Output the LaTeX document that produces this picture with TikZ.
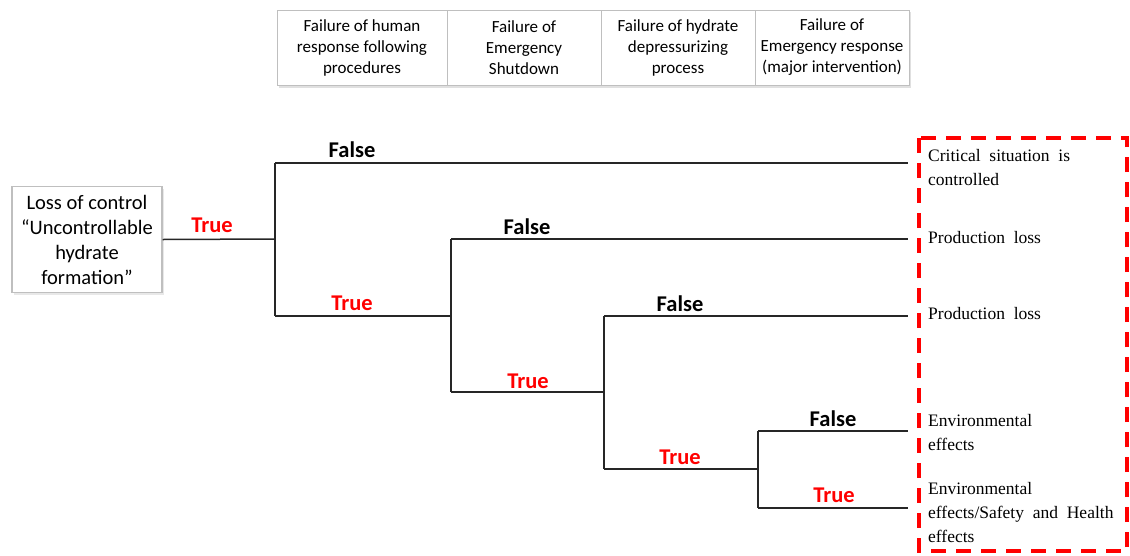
\documentclass[tikz,border=0pt]{standalone}
\usepackage{fontspec}
\setmainfont{Liberation Serif}
\newfontfamily\calfont{Carlito}
\usetikzlibrary{shadows}
\definecolor{boxgray}{HTML}{BFBFBF}
\definecolor{linegray}{HTML}{262626}
\definecolor{truered}{HTML}{FF0000}
\begin{document}
\begin{tikzpicture}[x=1pt,y=-1pt,
  branch/.style={draw=linegray, line width=1.5pt},
  falselbl/.style={font=\calfont\bfseries\fontsize{22.5}{26}\selectfont, text=black, inner sep=0},
  truelbl/.style={font=\calfont\bfseries\fontsize{22.5}{26}\selectfont, text=truered, inner sep=0},
  headcell/.style={draw=boxgray, line width=1pt, fill=white, align=center,
    minimum height=75pt, inner sep=0, font=\calfont\fontsize{17}{21}\selectfont},
  startbox/.style={draw=boxgray, line width=1.2pt, fill=white, align=center,
    minimum width=150pt, minimum height=106pt, inner sep=0,
    font=\calfont\fontsize{20.5}{25}\selectfont,
    drop shadow={opacity=0.18, shadow xshift=1.5pt, shadow yshift=-2pt}},
  outcome/.style={anchor=base west, inner sep=0, font=\fontsize{17.5}{24}\selectfont},
  endzone/.style={draw=truered, line width=4pt, dash pattern=on 15pt off 10pt}
]
\useasboundingbox (0,0) rectangle (1130,555);

% header row of the event tree
\fill[black, opacity=0.12] (279,12) rectangle (911,88);
\node[headcell, minimum width=170pt] (h1) at (362,47.5) {Failure of human\\response following\\procedures};
\node[headcell, minimum width=154pt] (h2) at (524,47.5) {Failure of\\Emergency\\Shutdown};
\node[headcell, minimum width=154pt] (h3) at (678,47.5) {Failure of hydrate\\depressurizing\\process};
\node[headcell, minimum width=154pt] (h4) at (832,47.5) {Failure of\\Emergency response\\(major intervention)};

% initiating event
\node[startbox] (start) at (87,239.5) {Loss of control\\“Uncontrollable\\hydrate\\formation”};

% branching points
\coordinate (j1)  at (275,239);
\coordinate (j1f) at (275,163);
\coordinate (j1t) at (275,316);
\coordinate (j2)  at (451,316);
\coordinate (j2f) at (451,239);
\coordinate (j2t) at (451,392);
\coordinate (j3)  at (604,392);
\coordinate (j3f) at (604,316);
\coordinate (j3t) at (604,469);
\coordinate (j4)  at (758,469);
\coordinate (j4f) at (758,431);
\coordinate (j4t) at (758,508);
% branch ends
\coordinate (e1) at (908,163);
\coordinate (e2) at (908,239);
\coordinate (e3) at (908,316);
\coordinate (e4) at (908,431);
\coordinate (e5) at (908,508);

% tree branches
\draw[branch] (start.east) -- (j1);
\draw[branch] (j1f) -- (j1t);
\draw[branch] (j1f) -- (e1);
\draw[branch] (j1t) -- (j2);
\draw[branch] (j2f) -- (j2t);
\draw[branch] (j2f) -- (e2);
\draw[branch] (j2t) -- (j3);
\draw[branch] (j3f) -- (j3t);
\draw[branch] (j3f) -- (e3);
\draw[branch] (j3t) -- (j4);
\draw[branch] (j4f) -- (j4t);
\draw[branch] (j4f) -- (e4);
\draw[branch] (j4t) -- (e5);

% branch labels
\node[truelbl]  (t0) at (212,225) {True};
\node[falselbl] (f1) at (352,150) {False};
\node[truelbl]  (t1) at (352,303) {True};
\node[falselbl] (f2) at (527,227) {False};
\node[truelbl]  (t2) at (528,381) {True};
\node[falselbl] (f3) at (680,304) {False};
\node[truelbl]  (t3) at (680,457) {True};
\node[falselbl] (f4) at (833,419) {False};
\node[truelbl]  (t4) at (834,495) {True};

% consequences
\draw[endzone] (919,138) rectangle (1127,551);
\node[outcome] (o1) at (928,161) {\parbox[t]{190pt}{\raggedright Critical\ \ situation\ \ is\\controlled}};
\node[outcome] (o2) at (928,243) {Production\ \ loss};
\node[outcome] (o3) at (928,319) {Production\ \ loss};
\node[outcome] (o4) at (928,426) {\parbox[t]{190pt}{\raggedright Environmental\\effects}};
\node[outcome] (o5) at (928,494) {\parbox[t]{190pt}{\raggedright Environmental\\effects/Safety\ \ and\ \ Health\\effects}};
\end{tikzpicture}
\end{document}
